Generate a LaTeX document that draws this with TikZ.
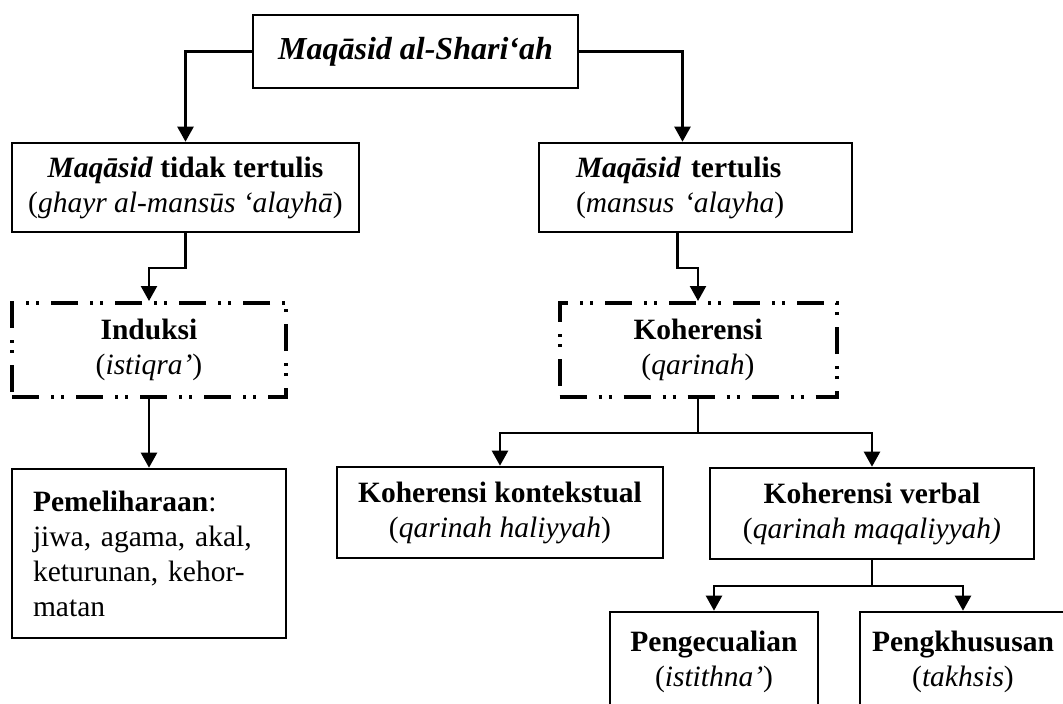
\documentclass[tikz,border=0pt]{standalone}
\usepackage{fontspec}
\setmainfont{Liberation Serif}
\usepackage{tikz}
\usetikzlibrary{arrows.meta}
\usetikzlibrary{positioning}

\tikzset{
  box/.style={draw, line width=2.6pt, align=center, inner sep=0pt},
  dotbox/.style={draw, line width=4pt, dash pattern=on 27pt off 12pt on 3pt off 7pt on 3pt off 12pt, align=center, inner sep=0pt},
  arr/.style={line width=2.3pt, -{Triangle[length=15pt,width=16pt]}}
}

\begin{document}
\begin{tikzpicture}[x=1pt,y=-1pt,font=\fontsize{29.5}{35}\selectfont]
\useasboundingbox (0,0) rectangle (1063,704);
\clip (0,0) rectangle (1063,704);
\node[box, minimum width=325pt, minimum height=73pt, font=\fontsize{32}{38}\selectfont\bfseries\itshape] (syariah) at (415.5,51.5) {Maqāsid al-Shari‘ah};
\node[box, minimum width=347pt, minimum height=89pt] (tidak) at (185.5,187.5) {\textbf{\textit{Maqāsid} tidak tertulis}\\(\textit{ghayr al-mansūs ‘alayhā})};
\node[box, minimum width=313pt, minimum height=89pt, text width=239pt, inner xsep=37pt, align=left] (tertulis) at (695.5,187.5) {\textbf{\textit{Maqāsid} tertulis}\\(\textit{mansus ‘alayha})};
\node[dotbox, minimum width=274pt, minimum height=94pt] (induksi) at (149,350) {\textbf{Induksi}\\(\textit{istiqra’})};
\node[dotbox, minimum width=277pt, minimum height=94pt] (koher) at (698,350) {\textbf{Koherensi}\\(\textit{qarinah})};
\node[box, minimum width=274pt, minimum height=169pt, text width=232pt, inner xsep=21pt, align=left] (pelihara) at (149,553.5) {\textbf{Pemeliharaan}:\\jiwa, agama, akal,\\keturunan, kehor-\\matan};
\node[box, minimum width=326pt, minimum height=91pt] (kontek) at (500,512.5) {\textbf{Koherensi kontekstual}\\(\textit{qarinah haliyyah})};
\node[box, minimum width=324pt, minimum height=91pt] (verbal) at (872,513.5) {\textbf{Koherensi verbal}\\(\textit{qarinah maqaliyyah)}};
\node[box, minimum width=208pt, minimum height=100pt] (kecuali) at (714,662) {\textbf{Pengecualian}\\(\textit{istithna’})};
\node[box, minimum width=206pt, minimum height=100pt] (khusus) at (963,662) {\textbf{Pengkhususan}\\(\textit{takhsis})};
\draw[arr] (syariah.west) -| (tidak.north);
\draw[arr] (syariah.east) -| ([xshift=-13pt]tertulis.north);
\draw[arr] (tidak.south) -- ++(0,35) -| (induksi.north);
\draw[arr] ([xshift=-18pt]tertulis.south) -- ++(0,35) -| (koher.north);
\draw[arr] (induksi.south) -- (pelihara.north);
\draw[arr] (koher.south) -- ++(0,34) -| (kontek.north);
\draw[arr] (koher.south) -- ++(0,34) -| (verbal.north);
\draw[arr] (verbal.south) -- ++(0,26) -| (kecuali.north);
\draw[arr] (verbal.south) -- ++(0,26) -| (khusus.north);
\end{tikzpicture}
\end{document}
